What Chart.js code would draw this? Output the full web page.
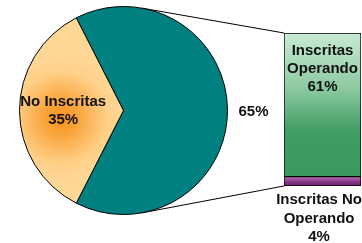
<!DOCTYPE html>
<html>
<head>
<meta charset="utf-8">
<script src="https://cdn.jsdelivr.net/npm/chart.js@4"></script>
<style>
    html, body { margin: 0; padding: 0; background: #fff; overflow: hidden; }
    #wrap { position: relative; width: 362px; height: 243px; }
    canvas { position: absolute; left: 0; top: 0; }
</style>
</head>
<body>
<div id="wrap">
    <canvas id="barChart" width="362" height="243"></canvas>
    <canvas id="pieChart" width="247" height="221"></canvas>
</div>
<script>
// Pie: share of companies (clockwise from the upper left edge)
const pieLabels = ['Inscritas', 'No Inscritas'];
const pieValues = [65, 35];

// Breakdown bar for the "Inscritas" slice (bottom to top)
const barLabels = ['Inscritas No Operando', 'Inscritas Operando'];
const barValues = [4, 61];

const FONT = '"Liberation Sans", Arial, sans-serif';
const TEXT = '#111';

function drawLines(ctx, lines, x, y, lineH) {
    lines.forEach((t, i) => ctx.fillText(t, x, y + i * lineH));
}

// label inside the orange slice
const pieLabelPlugin = {
    id: 'pieLabels',
    afterDatasetsDraw(chart) {
        const ctx = chart.ctx;
        const arc = chart.getDatasetMeta(0).data[1];
        const mid = (arc.startAngle + arc.endAngle) / 2;
        const r = arc.outerRadius * 0.58;
        ctx.save();
        ctx.font = 'bold 15px ' + FONT;
        ctx.fillStyle = TEXT;
        ctx.textAlign = 'center';
        ctx.textBaseline = 'middle';
        drawLines(ctx, [pieLabels[1], pieValues[1] + '%'],
            arc.x + Math.cos(mid) * r, arc.y + Math.sin(mid) * r - 9, 18);
        ctx.restore();
    }
};

const pieChart = new Chart(document.getElementById('pieChart'), {
    type: 'pie',
    data: {
        labels: pieLabels,
        datasets: [{
            data: pieValues,
            backgroundColor: (c) => {
                if (c.dataIndex === 0) return '#008080';
                const g = c.chart.ctx.createRadialGradient(61, 118, 0, 61, 118, 62);
                g.addColorStop(0, '#f7931e');
                g.addColorStop(0.25, '#f9a237');
                g.addColorStop(0.75, '#ffd089');
                g.addColorStop(1, '#ffd795');
                return g;
            },
            borderColor: '#000',
            borderWidth: 1,
            hoverOffset: 0
        }]
    },
    options: {
        responsive: false,
        animation: false,
        rotation: -27,
        radius: 104,
        layout: { padding: 0 },
        plugins: { legend: { display: false }, tooltip: { enabled: false } }
    },
    plugins: [pieLabelPlugin]
});

// connector lines from the pie to the bar, the 65% label and the bar labels
const barExtrasPlugin = {
    id: 'barExtras',
    beforeDatasetsDraw(chart) {
        const arc = pieChart.getDatasetMeta(0).data[0];
        const top = chart.getDatasetMeta(1).data[0];
        const bottom = chart.getDatasetMeta(0).data[0];
        const left = top.x - top.width / 2;
        const a = 80 * Math.PI / 180;
        const ctx = chart.ctx;
        ctx.save();
        ctx.strokeStyle = '#000';
        ctx.lineWidth = 1;
        ctx.beginPath();
        ctx.moveTo(arc.x + Math.cos(-a) * arc.outerRadius, arc.y + Math.sin(-a) * arc.outerRadius);
        ctx.lineTo(left, top.y);
        ctx.moveTo(arc.x + Math.cos(a) * arc.outerRadius, arc.y + Math.sin(a) * arc.outerRadius);
        ctx.lineTo(left, bottom.base);
        ctx.stroke();
        ctx.restore();
    },
    afterDatasetsDraw(chart) {
        const top = chart.getDatasetMeta(1).data[0];
        const bottom = chart.getDatasetMeta(0).data[0];
        const arc = pieChart.getDatasetMeta(0).data[0];
        const ctx = chart.ctx;
        ctx.save();
        ctx.font = 'bold 15px ' + FONT;
        ctx.fillStyle = TEXT;
        ctx.textAlign = 'center';
        ctx.textBaseline = 'middle';

        // outside label of the teal slice
        const mid = (arc.startAngle + arc.endAngle) / 2;
        const r = arc.outerRadius + 26;
        ctx.fillText(pieValues[0] + '%', arc.x + Math.cos(mid) * r, arc.y + Math.sin(mid) * r + 1);

        drawLines(ctx, ['Inscritas', 'Operando', barValues[1] + '%'], top.x, top.y + 18, 18);

        const lines = ['Inscritas No', 'Operando', barValues[0] + '%'];
        const widest = Math.max(...lines.map(t => ctx.measureText(t).width));
        const cx = Math.min(bottom.x, chart.width - widest / 2);
        drawLines(ctx, lines, cx, bottom.base + 14, 18.5);
        ctx.restore();
    }
};

const total = barValues.reduce((a, b) => a + b, 0);

new Chart(document.getElementById('barChart'), {
    type: 'bar',
    data: {
        labels: [''],
        datasets: [
            {
                label: barLabels[0],
                data: [barValues[0]],
                backgroundColor: (c) => {
                    const area = c.chart.chartArea;
                    if (!area) return '#7b2a7b';
                    const g = c.chart.ctx.createLinearGradient(0, area.bottom - 9, 0, area.bottom);
                    g.addColorStop(0, '#b36db3');
                    g.addColorStop(0.5, '#8a3a8a');
                    g.addColorStop(1, '#6a1c6a');
                    return g;
                },
                borderColor: '#000',
                borderWidth: 1,
                borderSkipped: false
            },
            {
                label: barLabels[1],
                data: [barValues[1]],
                backgroundColor: (c) => {
                    const area = c.chart.chartArea;
                    if (!area) return '#3d9a62';
                    const g = c.chart.ctx.createLinearGradient(0, area.top, 0, area.bottom);
                    g.addColorStop(0, '#c8ead4');
                    g.addColorStop(0.35, '#8fcba3');
                    g.addColorStop(0.65, '#3f9c62');
                    g.addColorStop(1, '#3a995e');
                    return g;
                },
                borderColor: '#000',
                borderWidth: 1,
                borderSkipped: false
            }
        ]
    },
    options: {
        responsive: false,
        animation: false,
        layout: { padding: { left: 284, right: 1, top: 33, bottom: 57 } },
        scales: {
            x: { stacked: true, display: false, grid: { display: false } },
            y: { stacked: true, display: false, min: 0, max: total, grid: { display: false } }
        },
        datasets: { bar: { barPercentage: 1, categoryPercentage: 1 } },
        plugins: { legend: { display: false }, tooltip: { enabled: false } }
    },
    plugins: [barExtrasPlugin]
});
</script>
</body>
</html>
